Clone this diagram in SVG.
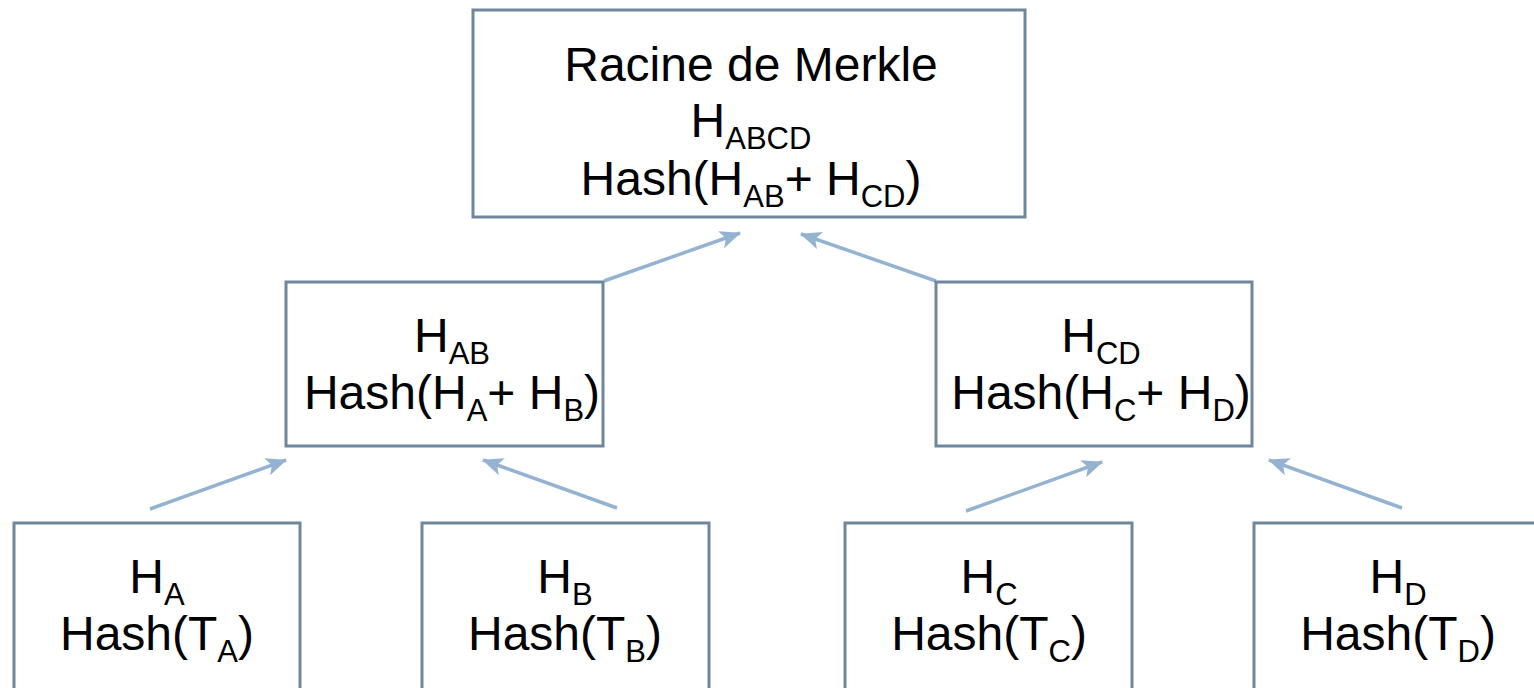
<svg xmlns="http://www.w3.org/2000/svg" width="1534" height="688" viewBox="0 0 1534 688">
  <style>
    .box { fill: #ffffff; stroke: #6f879c; stroke-width: 3; }
    .lbl { font-family: "Liberation Sans", Arial, sans-serif; font-size: 48px; fill: #000000; text-anchor: middle; }
    .sub { font-size: 31px; }
    .edge { stroke: #94b3d1; stroke-width: 3.5; fill: none; marker-end: url(#head); }
  </style>
  <defs>
    <marker id="head" markerUnits="userSpaceOnUse" markerWidth="24" markerHeight="20" refX="20" refY="9" orient="auto">
      <path d="M0,0 L21,9 L0,18 L5,9 Z" fill="#94b3d1"/>
    </marker>
  </defs>
  <rect width="1534" height="688" fill="#ffffff"/>

  <g id="connectors">
    <line class="edge" x1="150" y1="509" x2="286" y2="460"/>
    <line class="edge" x1="617" y1="508" x2="483" y2="460"/>
    <line class="edge" x1="604" y1="281" x2="740" y2="233"/>
    <line class="edge" x1="936" y1="281" x2="801" y2="234"/>
    <line class="edge" x1="966" y1="511" x2="1102" y2="462"/>
    <line class="edge" x1="1402" y1="508" x2="1269" y2="460"/>
  </g>

  <g id="root">
    <rect class="box" x="473" y="10" width="552" height="207"/>
    <text class="lbl" x="751" y="81">Racine de Merkle</text>
    <text class="lbl" x="751" y="137">H<tspan class="sub" dy="12">ABCD</tspan></text>
    <text class="lbl" x="751" y="195">Hash(H<tspan class="sub" dy="12">AB</tspan><tspan dy="-12">+ H</tspan><tspan class="sub" dy="12">CD</tspan><tspan dy="-12">)</tspan></text>
  </g>

  <g id="h-ab">
    <rect class="box" x="286" y="282" width="317" height="164"/>
    <text class="lbl" x="452" y="352">H<tspan class="sub" dy="12">AB</tspan></text>
    <text class="lbl" x="452" y="409">Hash(H<tspan class="sub" dy="12">A</tspan><tspan dy="-12">+ H</tspan><tspan class="sub" dy="12">B</tspan><tspan dy="-12">)</tspan></text>
  </g>

  <g id="h-cd">
    <rect class="box" x="936" y="282" width="316" height="164"/>
    <text class="lbl" x="1101" y="352">H<tspan class="sub" dy="12">CD</tspan></text>
    <text class="lbl" x="1101" y="409">Hash(H<tspan class="sub" dy="12">C</tspan><tspan dy="-12">+ H</tspan><tspan class="sub" dy="12">D</tspan><tspan dy="-12">)</tspan></text>
  </g>

  <g id="h-a">
    <rect class="box" x="14" y="523" width="286" height="180"/>
    <text class="lbl" x="157" y="593">H<tspan class="sub" dy="12">A</tspan></text>
    <text class="lbl" x="157" y="650">Hash(T<tspan class="sub" dy="12">A</tspan><tspan dy="-12">)</tspan></text>
  </g>

  <g id="h-b">
    <rect class="box" x="422" y="523" width="287" height="180"/>
    <text class="lbl" x="565" y="593">H<tspan class="sub" dy="12">B</tspan></text>
    <text class="lbl" x="565" y="650">Hash(T<tspan class="sub" dy="12">B</tspan><tspan dy="-12">)</tspan></text>
  </g>

  <g id="h-c">
    <rect class="box" x="845" y="523" width="287" height="180"/>
    <text class="lbl" x="989" y="593">H<tspan class="sub" dy="12">C</tspan></text>
    <text class="lbl" x="989" y="650">Hash(T<tspan class="sub" dy="12">C</tspan><tspan dy="-12">)</tspan></text>
  </g>

  <g id="h-d">
    <rect class="box" x="1254" y="523" width="300" height="180"/>
    <text class="lbl" x="1398" y="593">H<tspan class="sub" dy="12">D</tspan></text>
    <text class="lbl" x="1398" y="650">Hash(T<tspan class="sub" dy="12">D</tspan><tspan dy="-12">)</tspan></text>
  </g>
</svg>
